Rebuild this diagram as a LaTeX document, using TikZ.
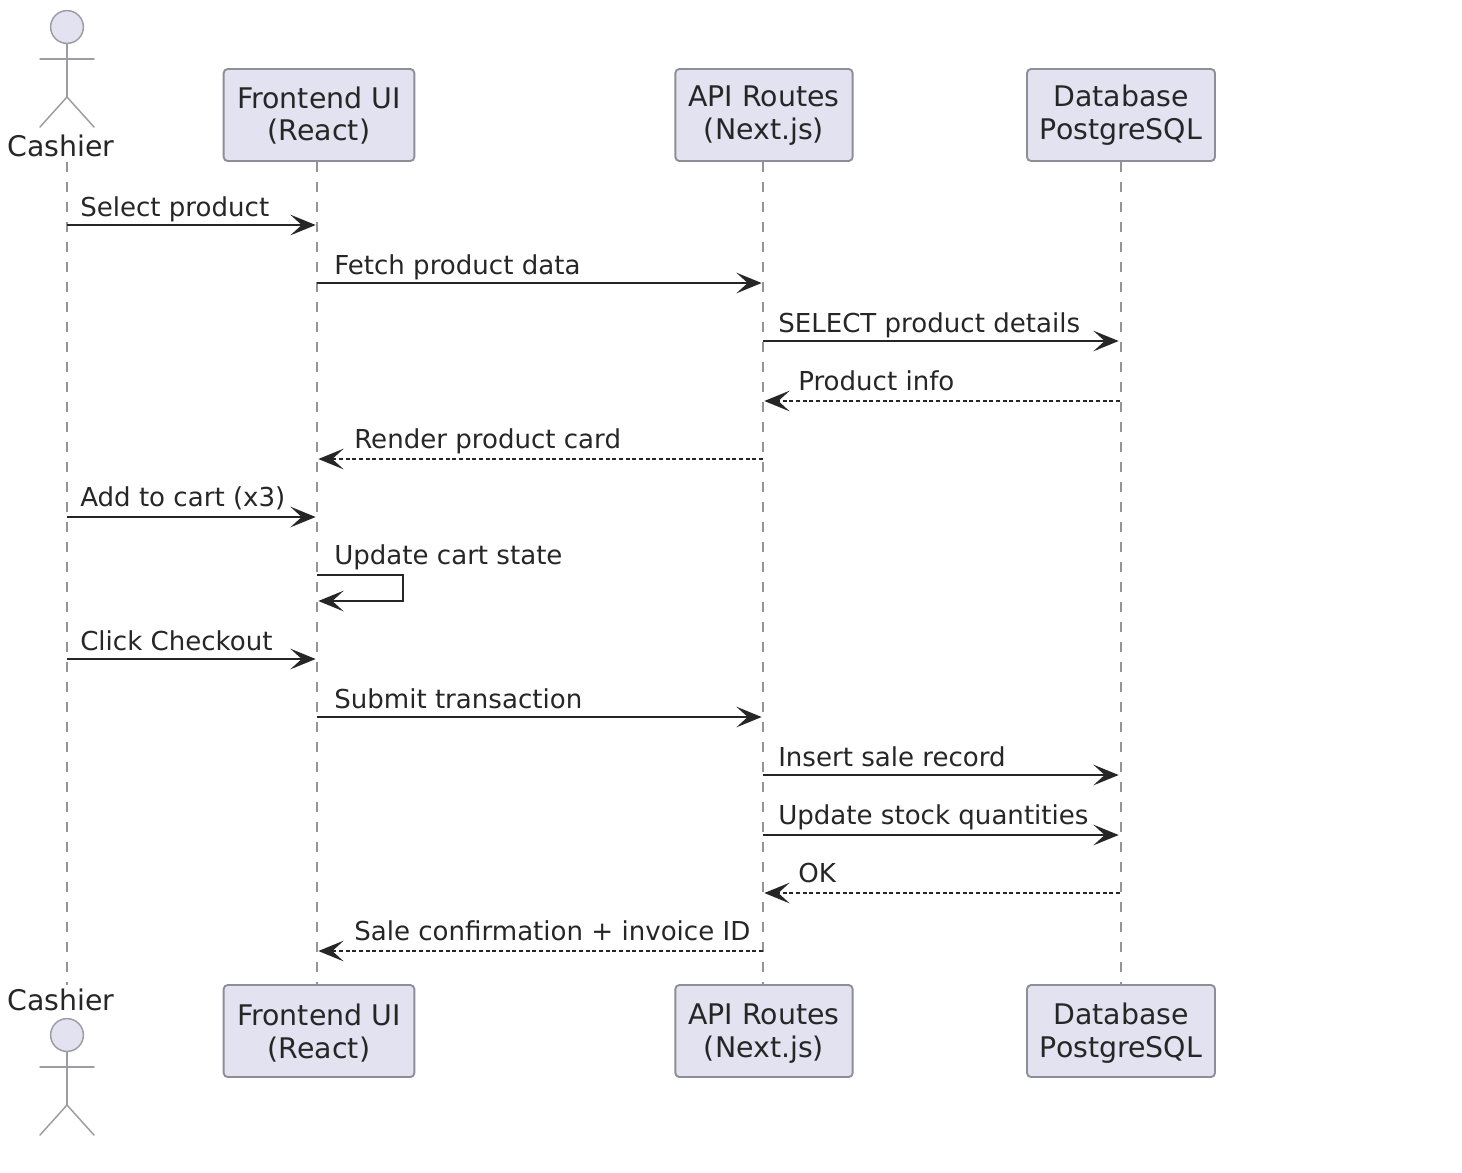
\documentclass[tikz,border=0pt]{standalone}
\usepackage{fontspec}
\setmainfont{DejaVu Sans}
\usetikzlibrary{arrows.meta}
\definecolor{boxfill}{HTML}{E2E2F0}
\definecolor{boxline}{HTML}{8E8E98}
\definecolor{figline}{HTML}{9C9CA2}
\definecolor{lifeline}{HTML}{959595}
\definecolor{ink}{HTML}{262626}
\tikzset{
  x=0.75pt,y=-0.75pt,
  part/.style={draw=boxline,fill=boxfill,line width=1.4pt,rounded corners=3pt,minimum height=69pt,inner sep=0pt,align=center,text=ink,font=\fontsize{21.3}{24.6}\selectfont},
  actorname/.style={inner sep=0pt,anchor=base,text=ink,font=\fontsize{21.3}{24.6}\selectfont},
  life/.style={draw=lifeline,line width=1.1pt,dash pattern=on 7.5pt off 7.5pt},
  actorline/.style={draw=figline,line width=1.1pt,line cap=round},
  head/.style={circle,draw=figline,fill=boxfill,line width=1.1pt,minimum size=24.6pt,inner sep=0pt},
  msg/.style={draw=ink,line width=1.3pt,shorten >=1pt,-{Stealth[length=19pt,width=15.5pt,inset=8.5pt,fill=ink]}},
  ret/.style={msg,line width=1pt,dash pattern=on 3pt off 2pt},
  lab/.style={inner sep=0pt,anchor=base west,text=ink,font=\fontsize{19.55}{24}\selectfont},
}
\newcommand{\topstrut}{\rule{0pt}{17pt}}
\newcommand{\botstrut}{\rule{0pt}{19.2pt}}
\newcommand{\actorfig}[2]{%
  \node[head] (#1h) at (67,#2) {};
  \coordinate (#1n) at (67,#2+32);
  \coordinate (#1l) at (40,#2+32);
  \coordinate (#1r) at (94,#2+32);
  \coordinate (#1w) at (67,#2+70);
  \coordinate (#1p) at (40,#2+100);
  \coordinate (#1q) at (94,#2+100);
  \draw[actorline] (#1h.south) -- (#1w);
  \draw[actorline] (#1l) -- (#1r);
  \draw[actorline] (#1p) -- (#1w) -- (#1q);
}
\begin{document}
\begin{tikzpicture}
\useasboundingbox (0,0) rectangle (1462,1172);
\coordinate (at) at (67,162);
\coordinate (ab) at (67,985);
\node[part,minimum width=143pt] (ft) at (319,115) {\topstrut Frontend UI\\(React)};
\node[part,minimum width=133pt] (at2) at (764,115) {\topstrut API Routes\\(Next.js)};
\node[part,minimum width=141pt] (dt) at (1121,115) {\topstrut Database\\PostgreSQL};
\node[part,minimum width=143pt] (fb) at (319,1031) {\botstrut Frontend UI\\(React)};
\node[part,minimum width=133pt] (ab2) at (764,1031) {\botstrut API Routes\\(Next.js)};
\node[part,minimum width=141pt] (db) at (1121,1031) {\botstrut Database\\PostgreSQL};
\draw[life] (at) -- (ab);
\draw[life] (ft.south -| 317,0) -- (fb.north -| 317,0);
\draw[life] (at2.south -| 763,0) -- (ab2.north -| 763,0);
\draw[life] (dt.south) -- (db.north);
\actorfig{t}{27}
\actorfig{u}{1035}
\node[actorname] (cashiert) at (61,156) {Cashier};
\node[actorname] (cashierb) at (61,1010) {Cashier};
\foreach \n/\y in {1/225,2/283,3/341,4/401,5/459,6/517,7/575,8/601,9/659,10/717,11/775,12/835,13/893,14/951}{
  \coordinate (a\n) at (67,\y);
  \coordinate (b\n) at (317,\y);
  \coordinate (c\n) at (763,\y);
  \coordinate (d\n) at (1120,\y);
}
\draw[msg] (a1) -- (b1);
\node[lab] (m1) at (80,216) {Select product};
\draw[msg] (b2) -- (c2);
\node[lab] (m2) at (334,274) {Fetch product data};
\draw[msg] (c3) -- (d3);
\node[lab] (m3) at (778,332) {SELECT product details};
\draw[ret] (d4) -- (c4);
\node[lab] (m4) at (798,390) {Product info};
\draw[ret] (c5) -- (b5);
\node[lab] (m5) at (354,448) {Render product card};
\draw[msg] (a6) -- (b6);
\node[lab] (m6) at (80,506) {Add to cart (x3)};
\coordinate (s1) at (403,575);
\coordinate (s2) at (403,601);
\draw[msg] (b7) -- (s1) -- (s2) -- (b8);
\node[lab] (m7) at (334,564) {Update cart state};
\draw[msg] (a9) -- (b9);
\node[lab] (m8) at (80,650) {Click Checkout};
\draw[msg] (b10) -- (c10);
\node[lab] (m9) at (334,708) {Submit transaction};
\draw[msg] (c11) -- (d11);
\node[lab] (m10) at (778,766) {Insert sale record};
\draw[msg] (c12) -- (d12);
\node[lab] (m11) at (778,824) {Update stock quantities};
\draw[ret] (d13) -- (c13);
\node[lab] (m12) at (798,882) {OK};
\draw[ret] (c14) -- (b14);
\node[lab] (m13) at (354,940) {Sale confirmation + invoice ID};
\end{tikzpicture}
\end{document}
